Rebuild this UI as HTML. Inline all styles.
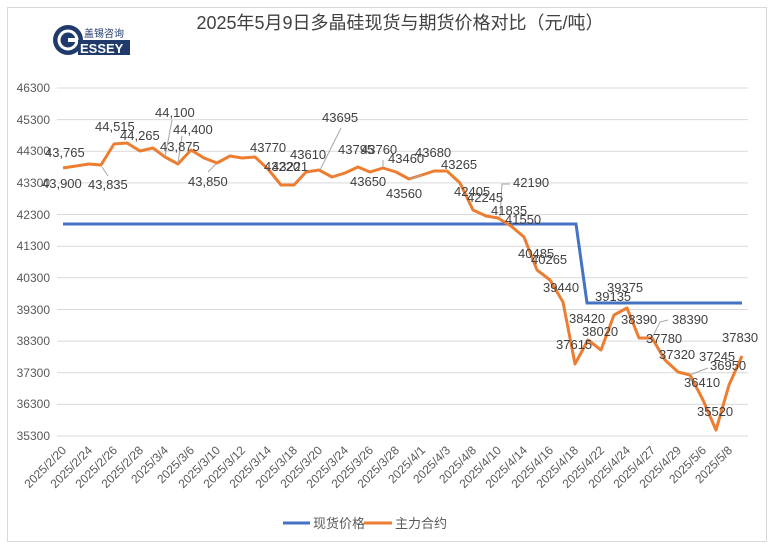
<!DOCTYPE html>
<html><head><meta charset="utf-8"><style>
html,body{margin:0;padding:0;background:#fff;}
svg{display:block;font-family:"Liberation Sans","Noto Sans CJK SC",sans-serif;}
</style></head><body>
<svg width="777" height="552" xmlns="http://www.w3.org/2000/svg">
<rect x="0" y="0" width="777" height="552" fill="#fff"/>
<rect x="7.5" y="7.5" width="759" height="534" fill="none" stroke="#d9d9d9" stroke-width="1"/>
<text x="400" y="29" text-anchor="middle" font-size="18" fill="#404040" font-family="Liberation Sans,Noto Sans CJK SC,sans-serif">2025年5月9日多晶硅现货与期货价格对比（元/吨）</text>
<circle cx="68" cy="40" r="15" fill="#1f3a6b"/>
<circle cx="68" cy="40" r="9" fill="none" stroke="#fff" stroke-width="3"/>
<rect x="68" y="38" width="10" height="4" fill="#fff"/>
<text x="84" y="37" font-size="10" fill="#1f3a6b" font-family="Noto Sans CJK SC,sans-serif">盖锡咨询</text>
<rect x="78" y="40" width="52" height="15" fill="#1f3a6b"/>
<text x="80" y="53" font-size="13" font-weight="bold" fill="#fff">ESSEY</text>
<g stroke="#d9d9d9" stroke-width="1">
<line x1="57" x2="748" y1="88" y2="88"/><line x1="57" x2="748" y1="119.6" y2="119.6"/><line x1="57" x2="748" y1="151.3" y2="151.3"/><line x1="57" x2="748" y1="182.9" y2="182.9"/><line x1="57" x2="748" y1="214.5" y2="214.5"/><line x1="57" x2="748" y1="246.2" y2="246.2"/><line x1="57" x2="748" y1="277.8" y2="277.8"/><line x1="57" x2="748" y1="309.5" y2="309.5"/><line x1="57" x2="748" y1="341.1" y2="341.1"/><line x1="57" x2="748" y1="372.7" y2="372.7"/><line x1="57" x2="748" y1="404.4" y2="404.4"/><line x1="57" x2="748" y1="436" y2="436"/>
</g>
<g font-size="12" fill="#595959" text-anchor="end">
<text x="50" y="92">46300</text><text x="50" y="124">45300</text><text x="50" y="155">44300</text><text x="50" y="187">43300</text><text x="50" y="219">42300</text><text x="50" y="250">41300</text><text x="50" y="282">40300</text><text x="50" y="314">39300</text><text x="50" y="345">38300</text><text x="50" y="377">37300</text><text x="50" y="408">36300</text><text x="50" y="440">35300</text>
</g>
<polyline fill="none" stroke="#4472c4" stroke-width="3" points="63,224 576,224 587,303 742,303"/>
<polyline fill="none" stroke="#ed7d31" stroke-width="3" stroke-linejoin="round" points="63,168 76,166 89,164 101,165 114,144 127,143 140,151 153,148 165,157 178,164 191,150 204,158 217,163 230,156 242,158 255,157 268,169 281,185 294,185 306,172 319,170 332,177 345,173 358,167 370,172 383,168 396,172 409,179 422,175 434,171 447,171 460,183 473,210 486,216 498,218 511,226 524,237 537,270 550,280 563,302 575,364 588,340 601,350 614,315 627,308 639,338 652,338 665,360 678,372 690,375 703,400 716,430 729,385 742,356"/>
<g stroke="#a6a6a6" stroke-width="1" fill="none">
<line x1="102" y1="167" x2="108" y2="176"/>
<line x1="165" y1="157" x2="172" y2="120"/>
<line x1="178" y1="163" x2="182" y2="136"/>
<line x1="216" y1="164" x2="208" y2="172"/>
<line x1="320" y1="170" x2="341" y2="128"/>
<line x1="383" y1="167" x2="383" y2="160"/>
<line x1="410" y1="179" x2="422" y2="175"/>
<polyline points="500,217 502,184 510,184"/>
<polyline points="652,338 660,322 668,320"/>
<polyline points="690,375 700,371 708,368"/>
</g>
<g font-size="13" fill="#404040">
<text x="45" y="157">43,765</text><text x="42" y="188">43,900</text><text x="95" y="131">44,515</text><text x="88" y="189">43,835</text><text x="120" y="140">44,265</text><text x="155" y="117">44,100</text><text x="173" y="134">44,400</text><text x="160" y="151">43,875</text><text x="188" y="186">43,850</text>
<text x="250" y="152">43770</text><text x="264" y="171">43220</text><text x="272" y="171">43221</text><text x="290" y="159">43610</text><text x="322" y="122">43695</text><text x="338" y="154">43795</text><text x="361" y="154">43760</text><text x="350" y="186">43650</text><text x="388" y="163">43460</text><text x="415" y="157">43680</text><text x="386" y="198">43560</text><text x="441" y="169">43265</text><text x="454" y="196">42405</text><text x="467" y="202">42245</text><text x="513" y="187">42190</text><text x="491" y="215">41835</text><text x="505" y="224">41550</text><text x="518" y="258">40485</text><text x="531" y="264">40265</text><text x="543" y="292">39440</text><text x="595" y="301">39135</text><text x="607" y="292">39375</text><text x="569" y="323">38420</text><text x="621" y="324">38390</text><text x="672" y="324">38390</text><text x="582" y="336">38020</text><text x="646" y="343">37780</text><text x="556" y="349">37615</text><text x="659" y="359">37320</text><text x="699" y="361">37245</text><text x="722" y="342">37830</text><text x="710" y="370">36950</text><text x="684" y="387">36410</text><text x="697" y="416">35520</text>
</g>
<g font-size="12" fill="#595959" text-anchor="end">
<text transform="translate(67,451) rotate(-45)">2025/2/20</text>
<text transform="translate(93,451) rotate(-45)">2025/2/24</text>
<text transform="translate(118,451) rotate(-45)">2025/2/26</text>
<text transform="translate(144,451) rotate(-45)">2025/2/28</text>
<text transform="translate(169,451) rotate(-45)">2025/3/4</text>
<text transform="translate(195,451) rotate(-45)">2025/3/6</text>
<text transform="translate(221,451) rotate(-45)">2025/3/10</text>
<text transform="translate(246,451) rotate(-45)">2025/3/12</text>
<text transform="translate(272,451) rotate(-45)">2025/3/14</text>
<text transform="translate(298,451) rotate(-45)">2025/3/18</text>
<text transform="translate(323,451) rotate(-45)">2025/3/20</text>
<text transform="translate(349,451) rotate(-45)">2025/3/24</text>
<text transform="translate(374,451) rotate(-45)">2025/3/26</text>
<text transform="translate(400,451) rotate(-45)">2025/3/28</text>
<text transform="translate(426,451) rotate(-45)">2025/4/1</text>
<text transform="translate(451,451) rotate(-45)">2025/4/3</text>
<text transform="translate(477,451) rotate(-45)">2025/4/8</text>
<text transform="translate(502,451) rotate(-45)">2025/4/10</text>
<text transform="translate(528,451) rotate(-45)">2025/4/14</text>
<text transform="translate(554,451) rotate(-45)">2025/4/16</text>
<text transform="translate(579,451) rotate(-45)">2025/4/18</text>
<text transform="translate(605,451) rotate(-45)">2025/4/22</text>
<text transform="translate(631,451) rotate(-45)">2025/4/24</text>
<text transform="translate(656,451) rotate(-45)">2025/4/27</text>
<text transform="translate(682,451) rotate(-45)">2025/4/29</text>
<text transform="translate(707,451) rotate(-45)">2025/5/6</text>
<text transform="translate(733,451) rotate(-45)">2025/5/8</text>
</g>
<line x1="283" y1="523" x2="310" y2="523" stroke="#4472c4" stroke-width="3"/>
<text x="313" y="528" font-size="13" fill="#595959" font-family="Noto Sans CJK SC,sans-serif">现货价格</text>
<line x1="364" y1="523" x2="392" y2="523" stroke="#ed7d31" stroke-width="3"/>
<text x="395" y="528" font-size="13" fill="#595959" font-family="Noto Sans CJK SC,sans-serif">主力合约</text>
</svg>
</body></html>
